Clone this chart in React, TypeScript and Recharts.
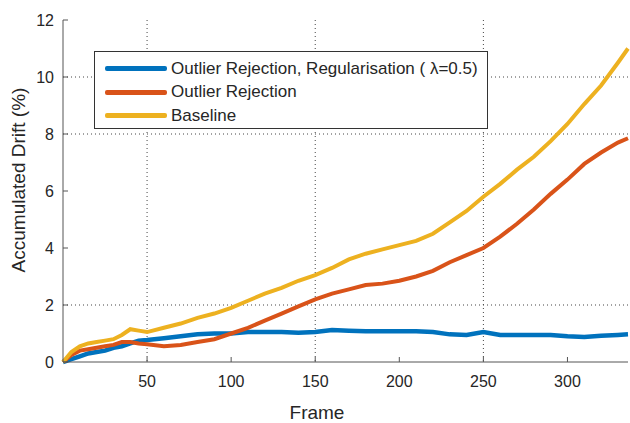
import React from 'react';
import {
  LineChart, Line, XAxis, YAxis, CartesianGrid, Legend,
} from 'recharts';

const frames = [0, 5, 10, 15, 20, 25, 30, 35, 40, 45, 50, 60, 70, 80, 90, 100, 110, 120, 130, 140, 150, 160, 170, 180, 190, 200, 210, 220, 230, 240, 250, 260, 270, 280, 290, 300, 310, 320, 330, 336];
const regularised = [0, 0.1, 0.2, 0.3, 0.35, 0.4, 0.5, 0.55, 0.65, 0.75, 0.77, 0.83, 0.9, 0.97, 1.0, 1.0, 1.05, 1.05, 1.05, 1.03, 1.05, 1.12, 1.1, 1.08, 1.08, 1.08, 1.08, 1.05, 0.97, 0.95, 1.05, 0.95, 0.95, 0.95, 0.95, 0.9, 0.88, 0.92, 0.95, 0.97];
const outlierRejection = [0, 0.25, 0.4, 0.45, 0.5, 0.55, 0.6, 0.7, 0.7, 0.65, 0.62, 0.55, 0.6, 0.7, 0.8, 1.0, 1.2, 1.45, 1.7, 1.95, 2.2, 2.4, 2.55, 2.7, 2.75, 2.85, 3.0, 3.2, 3.5, 3.75, 4.0, 4.4, 4.85, 5.35, 5.9, 6.4, 6.95, 7.35, 7.7, 7.85];
const baseline = [0, 0.35, 0.55, 0.65, 0.7, 0.75, 0.8, 0.95, 1.15, 1.1, 1.05, 1.2, 1.35, 1.55, 1.7, 1.9, 2.15, 2.4, 2.6, 2.85, 3.05, 3.3, 3.6, 3.8, 3.95, 4.1, 4.25, 4.5, 4.9, 5.3, 5.8, 6.25, 6.75, 7.2, 7.75, 8.35, 9.05, 9.7, 10.5, 11.0];

const xTicks = [50, 100, 150, 200, 250, 300];
const yTicks = [0, 2, 4, 6, 8, 10, 12];
const xGrid = [50, 150, 250];
const yGrid = [2, 8, 10];

const series = [
  { key: 'reg', name: 'Outlier Rejection, Regularisation ( \u03bb=0.5)', color: '#0072BD' },
  { key: 'rej', name: 'Outlier Rejection', color: '#D95319' },
  { key: 'base', name: 'Baseline', color: '#EDB120' },
];

const data = frames.map((f, i) => ({
  frame: f,
  reg: regularised[i],
  rej: outlierRejection[i],
  base: baseline[i],
}));

const font = '"Liberation Sans", Arial, sans-serif';
const textColor = '#262626';

const LegendBox = () => (
  <div
    style={{
      width: 394,
      height: 78,
      border: '1px solid #333',
      background: '#fff',
      boxSizing: 'border-box',
      padding: '5px 0 0 10px',
      fontFamily: font,
      fontSize: 17,
      color: textColor,
    }}
  >
    {series.map((s) => (
      <div key={s.key} style={{ display: 'flex', alignItems: 'center', height: 23.5, whiteSpace: 'nowrap' }}>
        <div style={{ width: 62, height: 5, background: s.color, borderRadius: 2, marginRight: 4 }} />
        <span>{s.name}</span>
      </div>
    ))}
  </div>
);

// axis titles, placed where the original figure has them
const YTitle = () => (
  <text x={18} y={180} transform="rotate(-90, 18, 180)" textAnchor="middle" dominantBaseline="central"
    fill={textColor} fontSize={19} fontFamily={font}>
    Accumulated Drift (%)
  </text>
);

const XTitle = () => (
  <text x={317} y={412} textAnchor="middle" dominantBaseline="central"
    fill={textColor} fontSize={19} fontFamily={font}>
    Frame
  </text>
);

export default function App() {
  return (
    <div style={{ position: 'absolute', left: 0, top: 0, background: '#fff' }}>
      <LineChart width={630} height={423} data={data} margin={{ top: 20, right: 2, left: 0, bottom: 0 }}>
        <CartesianGrid
          horizontalValues={yGrid}
          verticalValues={xGrid}
          stroke="#444"
          strokeDasharray="1 3"
        />
        <XAxis
          dataKey="frame"
          type="number"
          domain={[0, 336]}
          ticks={xTicks}
          height={61}
          tickSize={-5}
          tickMargin={19}
          stroke="#555"
          tick={{ fill: textColor, fontSize: 16, fontFamily: font }}
          label={<XTitle />}
        />
        <YAxis
          domain={[0, 12]}
          ticks={yTicks}
          width={63}
          tickSize={-5}
          tickMargin={14}
          stroke="#555"
          tick={{ fill: textColor, fontSize: 16, fontFamily: font }}
          label={<YTitle />}
        />
        <Legend
          content={<LegendBox />}
          layout="vertical"
          verticalAlign="middle"
          align="center"
          wrapperStyle={{ left: 94, top: 51, width: 394 }}
        />
        {series.map((s) => (
          <Line
            key={s.key}
            type="linear"
            dataKey={s.key}
            name={s.name}
            stroke={s.color}
            strokeWidth={s.key === 'reg' ? 4.5 : 4}
            dot={false}
            isAnimationActive={false}
          />
        ))}
      </LineChart>
    </div>
  );
}
